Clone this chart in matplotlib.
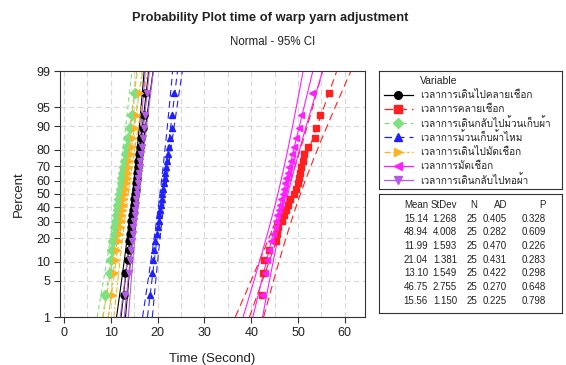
import matplotlib
matplotlib.use("Agg")
import matplotlib.pyplot as plt
from statistics import NormalDist
import numpy as np

plt.rcParams['font.family'] = ['Liberation Sans', 'Loma', 'DejaVu Sans']

# variable names (legend)
names = ["เวลาการเดินไปคลายเชือก", "เวลาการคลายเชือก", "เวลาการเดินกลับไปม้วนเก็บผ้า",
         "เวลาการม้วนเก็บผ้าไหม", "เวลาการเดินไปมัดเชือก", "เวลาการมัดเชือก",
         "เวลาการเดินกลับไปทอผ้า"]

t_walk_untie = [12.8, 13.1, 13.6, 13.8, 13.9, 14.2, 14.3, 14.4, 14.6, 14.8, 14.9, 15.0, 15.1,
                15.3, 15.4, 15.5, 15.7, 15.8, 15.9, 16.1, 16.3, 16.5, 16.9, 17.1, 17.4]
t_untie = [42.3, 42.6, 42.8, 43.8, 45.3, 45.5, 45.7, 46.6, 47.0, 47.4, 47.8, 48.2, 49.2,
           49.6, 49.9, 50.2, 50.5, 50.7, 51.0, 51.3, 52.1, 53.6, 53.9, 54.7, 56.6]
t_walk_roll = [8.8, 9.8, 10.0, 10.2, 10.5, 10.8, 10.9, 11.1, 11.3, 11.5, 11.6, 11.8, 12.0,
               12.1, 12.3, 12.4, 12.6, 12.8, 13.0, 13.2, 13.4, 13.7, 14.0, 14.5, 15.2]
t_roll = [18.4, 18.9, 19.0, 19.3, 19.5, 19.9, 20.0, 20.2, 20.4, 20.5, 20.7, 20.9, 21.0,
          21.1, 21.3, 21.5, 21.6, 21.8, 22.0, 22.3, 22.5, 22.7, 23.0, 23.1, 23.4]
t_walk_tie = [10.5, 10.9, 11.2, 11.4, 11.7, 11.9, 12.1, 12.3, 12.5, 12.6, 12.8, 12.9, 13.1,
              13.2, 13.4, 13.6, 13.7, 13.9, 14.1, 14.3, 14.5, 14.8, 15.1, 15.5, 16.2]
t_tie = [42.2, 42.9, 43.4, 43.8, 44.2, 44.6, 45.0, 45.3, 45.6, 45.9, 46.2, 46.4, 46.7,
         47.0, 47.3, 47.5, 47.8, 48.1, 48.4, 48.8, 49.1, 49.6, 50.1, 50.7, 53.0]
t_walk_weave = [13.0, 13.9, 14.2, 14.4, 14.5, 14.7, 14.8, 15.0, 15.1, 15.2, 15.3, 15.4, 15.6,
                15.7, 15.8, 15.9, 16.0, 16.2, 16.3, 16.4, 16.6, 16.8, 17.0, 17.3, 17.7]
data = [t_walk_untie, t_untie, t_walk_roll, t_roll, t_walk_tie, t_tie, t_walk_weave]

# summary table
mean = [15.14, 48.94, 11.99, 21.04, 13.10, 46.75, 15.56]
stdev = [1.268, 4.008, 1.593, 1.381, 1.549, 2.755, 1.150]
N = [25, 25, 25, 25, 25, 25, 25]
AD = [0.405, 0.282, 0.470, 0.431, 0.422, 0.270, 0.225]
P = [0.328, 0.609, 0.226, 0.283, 0.298, 0.648, 0.798]

pct_ticks = [1, 5, 10, 20, 30, 40, 50, 60, 70, 80, 90, 95, 99]

colors = ["black", "#ff1f1f", "#7fe07f", "#1f1fff", "#ffb21f", "#ff1fff", "#b45ce6"]
markers = ["o", "s", "D", "^", ">", "<", "v"]
styles = ["-", (0, (7, 4)), (0, (4, 3)), (0, (6, 4)), (0, (5, 2, 2, 2)), "-", "-"]
txtc = "#222222"

nd = NormalDist()
z = lambda p: nd.inv_cdf(p)
W, H = 566, 365

fig = plt.figure(figsize=(5.66, 3.65), dpi=100)
ax = fig.add_axes([60/W, 1-317/H, 305/W, 246/H])

zz = np.linspace(z(0.01), z(0.99), 60)
z975 = z(0.975)
for k in range(7):
    x = np.sort(np.array(data[k]))
    n = len(x)
    pp = [(i + 1 - 0.3) / (n + 0.4) for i in range(n)]  # median ranks
    zy = [z(p) for p in pp]
    fit = mean[k] + stdev[k] * zz
    half = z975 * stdev[k] * np.sqrt((1 + zz**2 / 2) / N[k])
    c = colors[k]
    for xs in (fit, fit - half, fit + half):
        ax.plot(xs, zz, color=c, lw=0.8, ls=styles[k], zorder=2)
    ax.plot(x, zy, ls="none", marker=markers[k], color=c, ms=5, mec=c, zorder=3)

ax.set_xlim(-0.85, 64.3)
ax.set_ylim(z(0.01), z(0.99))
ax.set_xticks(range(0, 61, 10))
ax.set_xticks(range(5, 65, 10), minor=True)
ax.set_yticks([z(p / 100) for p in pct_ticks])
ax.set_yticklabels([str(p) for p in pct_ticks])
ax.tick_params(labelsize=9, length=4, width=0.8, colors="#333333", labelcolor=txtc, pad=3)
ax.tick_params(axis="x", which="minor", length=0)
ax.grid(True, which="both", color="#d9d9d9", ls=(0, (5, 3)), lw=0.8)
ax.set_axisbelow(True)
for s in ax.spines.values():
    s.set_color("#333333")
ax.set_xlabel("Time (Second)", fontsize=9.5, color=txtc, labelpad=10)
ax.set_ylabel("Percent", fontsize=9.5, color=txtc, labelpad=8)

fig.text(270/W, 1-18/H, "Probability Plot time of warp yarn adjustment", ha="center",
         va="center", fontsize=9.3, fontweight="bold", color=txtc)
fig.text(273/W, 1-42/H, "Normal - 95% CI", ha="center", va="center", fontsize=8.3,
         color=txtc)

# legend box, drawn in figure pixels
lax = fig.add_axes([379/W, 1-189/H, 183/W, 118/H])
lax.set_xlim(379, 562)
lax.set_ylim(189, 71)
lax.set_xticks([])
lax.set_yticks([])
for s in lax.spines.values():
    s.set_color("#333333")
lax.text(420, 81, "Variable", ha="left", va="center", fontsize=7.5, color=txtc)
for k in range(7):
    yy = 94.5 + 14.3 * k
    lax.plot([384, 413], [yy, yy], color=colors[k], lw=0.9, ls=styles[k])
    lax.plot([398], [yy], marker=markers[k], color=colors[k], ms=5.5, ls="none")
    lax.text(420, yy, names[k], ha="left", va="center", fontsize=7.2, color=txtc)

# statistics box
sax = fig.add_axes([379/W, 1-313/H, 183/W, 119/H])
sax.set_xlim(379, 562)
sax.set_ylim(313, 194)
sax.set_xticks([])
sax.set_yticks([])
for s in sax.spines.values():
    s.set_color("#333333")
cols = [(428, "Mean"), (457, "StDev"), (477, "N"), (507, "AD"), (546, "P")]
rows = [[f"{m:.2f}", f"{s:.3f}", str(nn), f"{a:.3f}", f"{p:.3f}"]
        for m, s, nn, a, p in zip(mean, stdev, N, AD, P)]
for j, (xr, head) in enumerate(cols):
    sax.text(xr, 205, head, ha="right", va="center", fontsize=7, color=txtc)
    for i, r in enumerate(rows):
        sax.text(xr, 205 + 13.7 * (i + 1), r[j], ha="right", va="center",
                 fontsize=7, color=txtc)

fig.savefig("out.png", dpi=100)
